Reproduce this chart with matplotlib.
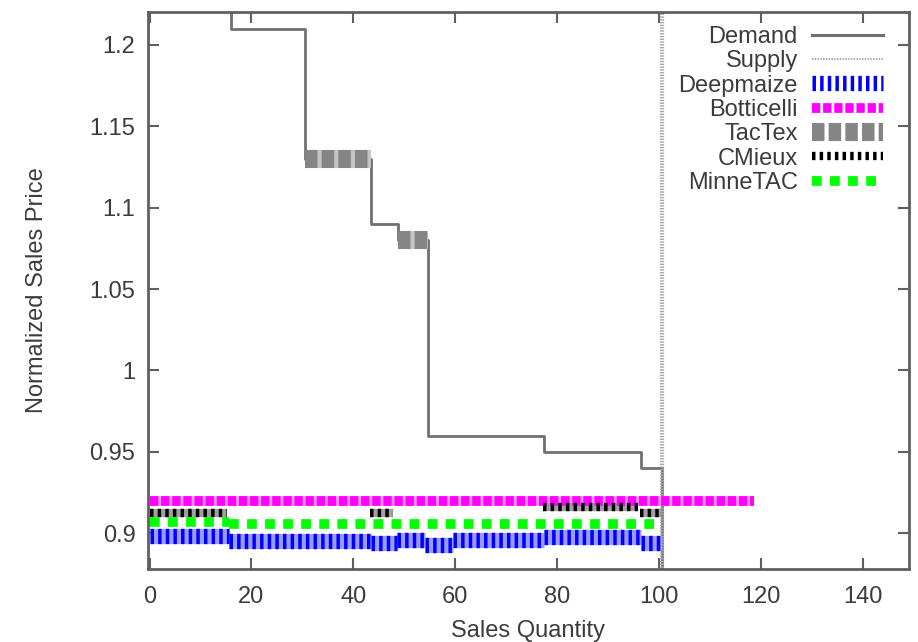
import matplotlib
matplotlib.use("Agg")
import matplotlib.pyplot as plt
from matplotlib.lines import Line2D

plt.rcParams['font.family'] = ['Liberation Sans', 'DejaVu Sans']
plt.rcParams['lines.scale_dashes'] = False

# demand curve (step, post): quantity where each price level starts
demand_q = [0, 16, 30.6, 43.4, 48.8, 54.7, 77.4, 96.5, 100.5]
demand_p = [1.25, 1.21, 1.13, 1.09, 1.08, 0.96, 0.95, 0.94, 0.85]

supply_q = 100.5

# agent sales: (start quantity, end quantity, price)
deepmaize = [(0, 15.5, 0.898), (15.5, 43.4, 0.895), (43.4, 48.5, 0.894),
             (48.5, 54.0, 0.896), (54.0, 59.5, 0.893), (59.5, 77.4, 0.896),
             (77.4, 96.5, 0.8975), (96.5, 100.5, 0.894)]
botticelli = [(0, 118.5, 0.92)]
tactex = [(30.6, 43.4, 1.13), (48.8, 54.7, 1.08)]
cmieux = [(0, 15.3, 0.9125), (43.3, 47.8, 0.9125), (77.2, 95.8, 0.9158),
          (96.2, 100.4, 0.9125)]
minnetac = [(0, 15.5, 0.9068), (15.5, 100.5, 0.9058)]

x_ticks = [0, 20, 40, 60, 80, 100, 120, 140]
y_ticks = [0.9, 0.95, 1.0, 1.05, 1.1, 1.15, 1.2]
y_labels = ['0.9', '0.95', '1', '1.05', '1.1', '1.15', '1.2']

text_col = '#3c3c3c'
axis_col = '#606060'

# style for each agent: (background colour, background lw, dash colour, dash lw, dashes)
styles = {
    'Deepmaize': ('#9a9aff', 11, '#0000ff', 11, (2.5, 3)),
    'Botticelli': ('#ff99ff', 7, '#ff00ff', 7, (6, 2)),
    'TacTex': ('#c4c4c4', 13, '#858585', 13, (9, 3)),
    'CMieux': ('#a0a0a0', 6, '#000000', 6, (2.5, 3)),
    'MinneTAC': (None, 7, '#00ff00', 7, (7, 6)),
}

fig = plt.figure(figsize=(9.18, 6.42), dpi=100)
ax = fig.add_axes([0.1612, 0.1137, 0.829, 0.8676])


def draw_sales(segs, name):
    bg, bglw, fg, fglw, dashes = styles[name]
    for q0, q1, p in segs:
        if bg is not None:
            ax.plot([q0, q1], [p, p], color=bg, lw=bglw, solid_capstyle='butt', zorder=3)
        ln, = ax.plot([q0, q1], [p, p], color=fg, lw=fglw, zorder=4)
        ln.set_dashes(dashes)


ax.plot(demand_q, demand_p, drawstyle='steps-post', color='#707070', lw=2, zorder=2)
sup, = ax.plot([supply_q, supply_q], [0.85, 1.25], color='#a8a8a8', lw=3, zorder=2)
sup.set_dashes((1, 1))

draw_sales(deepmaize, 'Deepmaize')
draw_sales(botticelli, 'Botticelli')
draw_sales(tactex, 'TacTex')
draw_sales(cmieux, 'CMieux')
draw_sales(minnetac, 'MinneTAC')

ax.set_xlim(-0.3, 149)
ax.set_ylim(0.878, 1.2202)
ax.set_xticks(x_ticks)
ax.set_xticklabels([str(v) for v in x_ticks])
ax.set_yticks(y_ticks)
ax.set_yticklabels(y_labels)
ax.tick_params(direction='in', length=8, width=1.5, color=axis_col,
               labelcolor=text_col, labelsize=17, top=True, right=True)
ax.tick_params(axis='x', pad=12)
ax.tick_params(axis='y', pad=9)
for sp in ax.spines.values():
    sp.set_color(axis_col)
    sp.set_linewidth(2)

ax.set_xlabel('Sales Quantity', fontsize=17, color=text_col, labelpad=9)
ax.set_ylabel('Normalized Sales Price', fontsize=17, color=text_col, labelpad=30)


# legend handles
def handle(name):
    bg, bglw, fg, fglw, dashes = styles[name]
    h = Line2D([], [], color=fg, lw=fglw)
    h.set_dashes(dashes)
    return h


h_dem = Line2D([], [], color='#707070', lw=2.2)
h_sup = Line2D([], [], color='#a8a8a8', lw=1.5)
h_sup.set_dashes((1, 1))
handles = [h_dem, h_sup] + [handle(n) for n in ['Deepmaize', 'Botticelli', 'TacTex', 'CMieux', 'MinneTAC']]
labels = ['Demand', 'Supply', 'Deepmaize', 'Botticelli', 'TacTex', 'CMieux', 'MinneTAC']
leg = ax.legend(handles, labels, loc='upper right', frameon=False, markerfirst=False,
                fontsize=17, handlelength=3.0, handletextpad=0.6, labelspacing=0.1,
                borderaxespad=0.0, bbox_to_anchor=(0.978, 0.992))
for t in leg.get_texts():
    t.set_color(text_col)

fig.savefig('out.png', dpi=100)
